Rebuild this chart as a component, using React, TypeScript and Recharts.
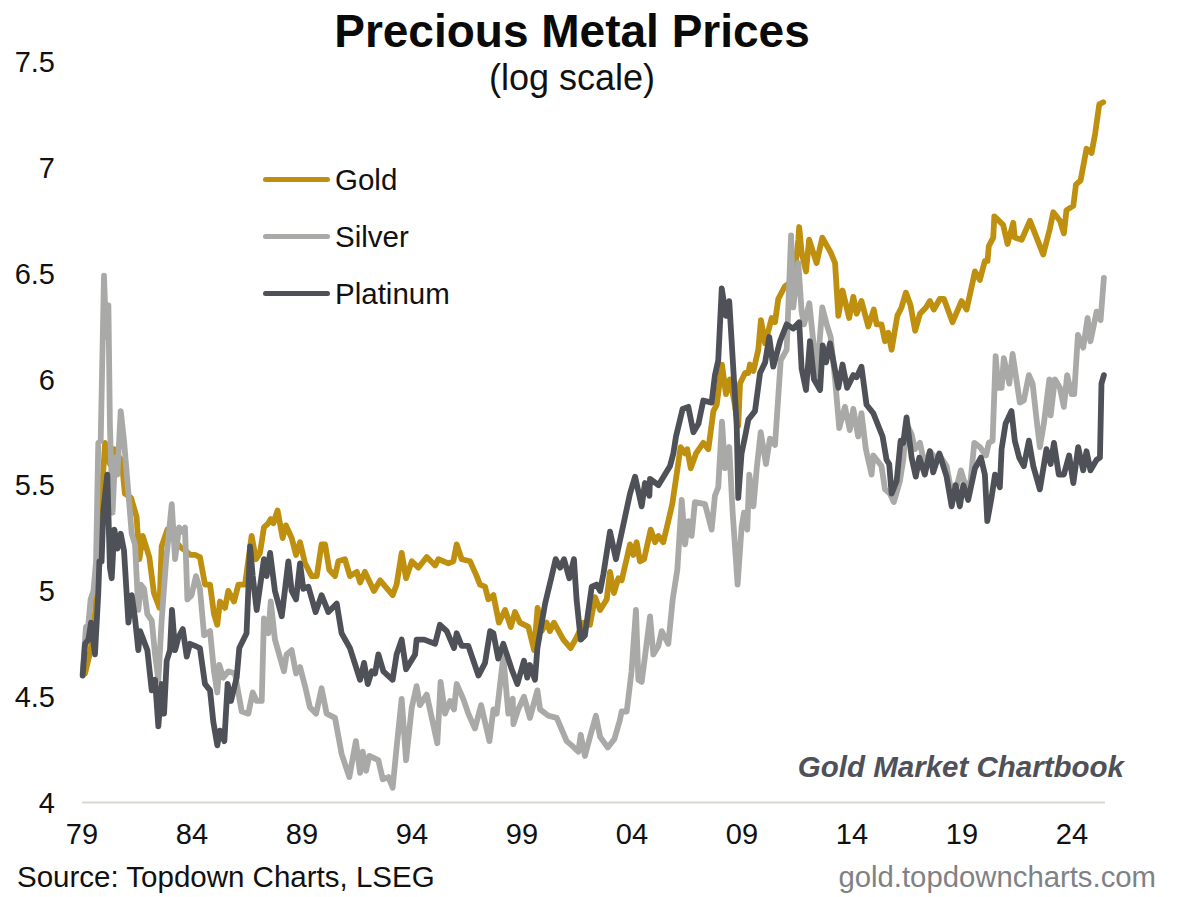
import React from "react";
import { LineChart, Line, XAxis, YAxis } from "recharts";

const FONT = "'Liberation Sans', Arial, sans-serif";

// Each point: [years since the start of 1979, log price]
const platinumPoints = [
[0.03,4.60],[0.14,4.75],[0.29,4.77],[0.41,4.85],[0.59,4.70],[0.74,4.99],[0.79,5.14],[0.89,5.14],[0.97,5.38],[1.15,5.55],[1.27,5.11],[1.35,5.06],[1.47,5.29],[1.61,5.20],[1.76,5.27],[1.91,5.19],[2.11,4.85],[2.26,4.98],[2.41,4.87],[2.56,4.72],[2.64,4.81],[2.79,4.77],[2.97,4.72],[3.17,4.53],[3.32,4.58],[3.47,4.36],[3.62,4.56],[3.73,4.42],[3.85,4.67],[4.0,4.72],[4.09,4.91],[4.23,4.72],[4.38,4.78],[4.58,4.82],[4.76,4.69],[4.91,4.75],[5.14,4.74],[5.36,4.73],[5.59,4.56],[5.82,4.53],[5.97,4.38],[6.15,4.27],[6.27,4.34],[6.47,4.29],[6.62,4.56],[6.77,4.48],[7.03,4.59],[7.15,4.73],[7.48,4.80],[7.64,5.21],[7.76,5.07],[7.94,4.91],[8.27,5.15],[8.39,5.07],[8.55,5.18],[8.77,5.00],[9.08,4.88],[9.38,5.14],[9.53,5.00],[9.73,4.96],[9.91,5.13],
[10.06,5.01],[10.29,5.02],[10.62,4.90],[10.89,4.98],[11.2,4.90],[11.58,4.94],[11.8,4.80],[12.18,4.73],[12.64,4.58],[12.82,4.66],[12.99,4.56],[13.17,4.62],[13.32,4.61],[13.47,4.70],[13.7,4.62],[14.12,4.58],[14.3,4.70],[14.53,4.77],[14.73,4.63],[15.14,4.70],[15.21,4.77],[15.55,4.77],[16.05,4.75],[16.27,4.84],[16.58,4.81],[16.91,4.73],[17.03,4.80],[17.26,4.74],[17.56,4.74],[18.02,4.60],[18.32,4.66],[18.55,4.81],[18.7,4.80],[18.92,4.68],[19.15,4.75],[19.53,4.63],[19.79,4.56],[20.09,4.67],[20.24,4.59],[20.36,4.65],[20.59,4.58],[20.7,4.73],[21.05,4.94],[21.35,5.07],[21.53,5.15],[21.73,5.11],[21.91,5.15],[22.15,5.06],[22.36,5.15],[22.48,4.96],[22.67,4.77],[22.86,4.79],[23.17,5.02],
[23.39,5.03],[23.55,5.00],[23.70,5.08],[24.0,5.28],[24.27,5.15],[24.6,5.31],[24.91,5.46],[25.14,5.54],[25.44,5.40],[25.59,5.51],[25.79,5.45],[25.82,5.53],[26.2,5.50],[26.73,5.59],[26.88,5.65],[27.0,5.73],[27.3,5.86],[27.56,5.87],[27.79,5.75],[28.02,5.79],[28.24,5.90],[28.62,5.89],[28.77,6.02],[28.92,6.09],[29.08,6.43],[29.27,6.30],[29.42,6.37],[29.61,6.04],[29.76,5.78],[29.83,5.44],[29.98,5.65],[30.14,5.73],[30.29,5.81],[30.59,5.85],[30.82,6.03],[31.05,6.08],[31.24,6.20],[31.42,6.06],[31.73,6.18],[32.03,6.26],[32.33,6.24],[32.6,6.27],[32.71,6.05],[32.91,5.95],[33.09,6.18],[33.27,6.0],[33.55,5.95],[33.67,6.16],[33.82,6.08],[34.0,6.17],[34.38,5.96],
[34.57,6.07],[34.78,5.96],[35.06,6.02],[35.21,6.01],[35.43,6.06],[35.66,5.88],[35.97,5.84],[36.39,5.73],[36.57,5.62],[36.69,5.60],[36.8,5.46],[37.03,5.52],[37.21,5.71],[37.33,5.70],[37.48,5.82],[37.71,5.63],[37.9,5.54],[38.06,5.63],[38.31,5.55],[38.54,5.66],[38.69,5.56],[38.97,5.65],[39.3,5.54],[39.53,5.40],[39.71,5.50],[39.9,5.40],[40.06,5.50],[40.28,5.43],[40.59,5.58],[40.86,5.63],[41.04,5.55],[41.15,5.33],[41.34,5.44],[41.5,5.55],[41.72,5.49],[41.8,5.67],[41.98,5.79],[42.25,5.85],[42.4,5.71],[42.6,5.63],[42.81,5.59],[43.04,5.71],[43.24,5.59],[43.54,5.48],[43.84,5.67],[44.03,5.60],[44.18,5.70],[44.4,5.55],[44.63,5.55],[44.87,5.64],[45.06,5.51],[45.28,5.68],[45.51,5.57],[45.66,5.66],[45.84,5.57],[46.12,5.62],[46.27,5.63],[46.34,5.98],[46.45,6.02],
];

const silverPoints = [
[0.03,4.61],[0.18,4.83],[0.29,4.84],[0.39,4.96],[0.52,5.0],[0.64,5.14],[0.74,5.70],[0.85,5.71],[1.0,6.49],[1.1,6.2],[1.2,6.35],[1.27,5.78],[1.39,5.37],[1.5,5.63],[1.61,5.55],[1.76,5.85],[1.91,5.71],[2.11,5.46],[2.26,5.27],[2.41,5.22],[2.56,4.91],[2.67,5.03],[2.82,5.01],[2.97,4.89],[3.17,4.86],[3.32,4.70],[3.47,4.58],[3.62,4.86],[3.82,5.14],[4.08,5.41],[4.23,5.15],[4.41,5.30],[4.53,5.28],[4.68,5.30],[4.79,4.96],[4.98,4.98],[5.18,5.07],[5.36,5.01],[5.55,4.79],[5.82,4.81],[6.0,4.62],[6.15,4.52],[6.24,4.65],[6.42,4.59],[6.65,4.62],[6.95,4.61],[7.26,4.43],[7.56,4.42],[7.76,4.52],[7.94,4.48],[8.17,4.48],[8.27,4.87],[8.47,4.80],[8.58,4.95],[8.77,4.77],[9.18,4.62],[9.3,4.70],[9.53,4.72],[9.73,4.61],
[9.91,4.64],[10.14,4.55],[10.36,4.45],[10.64,4.42],[10.89,4.54],[11.12,4.42],[11.5,4.40],[11.8,4.23],[12.15,4.12],[12.45,4.29],[12.64,4.14],[12.76,4.24],[12.91,4.15],[13.06,4.22],[13.47,4.20],[13.67,4.11],[13.93,4.12],[14.12,4.07],[14.3,4.26],[14.53,4.49],[14.73,4.20],[14.99,4.45],[15.21,4.55],[15.36,4.46],[15.67,4.51],[16.15,4.28],[16.3,4.57],[16.5,4.42],[16.73,4.48],[16.91,4.44],[17.03,4.56],[17.33,4.49],[17.56,4.42],[17.86,4.35],[18.14,4.46],[18.52,4.29],[18.7,4.44],[18.85,4.42],[19.15,4.69],[19.38,4.42],[19.58,4.49],[19.61,4.37],[19.83,4.44],[20.09,4.50],[20.36,4.40],[20.7,4.53],[20.82,4.44],[21.2,4.41],[21.58,4.40],[22.03,4.29],[22.26,4.27],[22.56,4.24],[22.67,4.32],[22.86,4.22],[23.09,4.31],[23.36,4.41],[23.55,4.31],
[23.9,4.26],[24.2,4.30],[24.45,4.39],[24.53,4.43],[24.76,4.43],[24.98,4.62],[25.18,4.91],[25.29,4.58],[25.44,4.57],[25.59,4.69],[25.82,4.88],[25.97,4.70],[26.2,4.74],[26.35,4.81],[26.65,4.75],[26.85,4.96],[27.06,5.10],[27.26,5.43],[27.41,5.22],[27.56,5.33],[27.71,5.26],[27.86,5.42],[28.32,5.41],[28.62,5.29],[28.77,5.45],[28.92,5.49],[29.09,5.80],[29.23,5.58],[29.42,5.68],[29.57,5.38],[29.8,5.03],[29.98,5.30],[30.09,5.37],[30.24,5.29],[30.33,5.55],[30.52,5.40],[30.67,5.58],[30.85,5.75],[31.09,5.60],[31.27,5.72],[31.5,5.69],[31.76,6.09],[32.03,6.14],[32.23,6.68],[32.33,6.34],[32.56,6.55],[32.71,6.32],[32.82,6.26],[33.06,6.36],[33.27,6.15],[33.39,6.0],[33.65,6.34],[33.85,6.26],[34.03,6.20],[34.23,6.0],[34.42,5.77],
[34.68,5.87],[34.9,5.76],[35.06,5.86],[35.28,5.73],[35.43,5.84],[35.63,5.67],[35.89,5.55],[35.97,5.64],[36.34,5.59],[36.5,5.48],[36.72,5.46],[36.9,5.42],[37.18,5.52],[37.33,5.62],[37.48,5.79],[37.71,5.74],[37.86,5.67],[38.09,5.70],[38.31,5.59],[38.54,5.66],[38.77,5.63],[38.99,5.64],[39.3,5.59],[39.53,5.46],[39.75,5.49],[39.95,5.57],[40.18,5.49],[40.39,5.52],[40.56,5.70],[40.81,5.68],[41.09,5.64],[41.22,5.70],[41.39,5.71],[41.53,6.11],[41.65,5.96],[41.8,5.96],[41.9,6.10],[42.15,5.98],[42.3,6.12],[42.63,5.89],[42.81,5.90],[43.04,6.02],[43.21,5.98],[43.39,5.81],[43.54,5.68],[43.72,5.79],[43.97,6.0],[44.03,5.83],[44.22,6.0],[44.45,5.96],[44.63,5.87],[44.78,6.02],[44.98,5.93],[45.1,5.93],[45.27,6.21],[45.51,6.15],[45.71,6.29],[45.84,6.18],[46.12,6.32],[46.3,6.28],[46.45,6.48],
];

const goldPoints = [
[0.14,4.61],[0.39,4.72],[0.59,4.89],[0.82,5.33],[1.05,5.70],[1.27,5.60],[1.47,5.67],[1.7,5.63],[1.8,5.62],[1.95,5.46],[2.23,5.44],[2.48,5.35],[2.61,5.15],[2.76,5.26],[3.06,5.16],[3.27,4.99],[3.52,4.92],[3.62,5.21],[3.88,5.29],[4.2,5.24],[4.45,5.21],[4.94,5.17],[5.14,5.17],[5.36,5.16],[5.59,5.03],[5.82,5.03],[6.0,4.89],[6.15,4.84],[6.27,4.95],[6.5,4.92],[6.65,5.0],[6.91,4.95],[7.11,5.03],[7.41,5.03],[7.71,5.26],[7.91,5.15],[8.09,5.18],[8.27,5.30],[8.47,5.32],[8.58,5.34],[8.7,5.32],[8.89,5.38],[9.12,5.25],[9.27,5.31],[9.53,5.25],[9.73,5.17],
[9.91,5.23],[10.14,5.13],[10.44,5.07],[10.67,5.07],[10.89,5.22],[11.05,5.22],[11.24,5.10],[11.5,5.07],[11.65,5.14],[11.95,5.15],[12.18,5.07],[12.49,5.09],[12.64,5.04],[12.86,5.09],[13.27,5.0],[13.55,5.05],[14.12,4.98],[14.3,5.03],[14.53,5.18],[14.73,5.06],[14.99,5.14],[15.29,5.11],[15.44,5.13],[15.67,5.16],[16.05,5.12],[16.2,5.15],[16.65,5.13],[16.88,5.14],[17.03,5.22],[17.26,5.15],[17.64,5.14],[17.94,5.07],[18.09,5.03],[18.32,5.02],[18.47,4.96],[18.7,4.98],[18.95,4.85],[19.23,4.91],[19.49,4.83],[19.68,4.90],[19.91,4.85],[20.29,4.83],[20.55,4.72],[20.71,4.92],[20.89,4.81],[21.12,4.85],[21.27,4.81],[21.45,4.85],[21.88,4.77],[22.21,4.73],[22.48,4.78],[22.79,4.85],[23.09,4.84],
[23.32,4.97],[23.55,4.91],[23.85,4.96],[24.0,5.09],[24.18,4.99],[24.38,5.06],[24.53,5.05],[24.91,5.22],[25.06,5.17],[25.21,5.23],[25.36,5.14],[25.55,5.15],[25.85,5.29],[26.05,5.23],[26.2,5.26],[26.42,5.23],[26.65,5.33],[26.83,5.41],[27.0,5.53],[27.21,5.68],[27.41,5.65],[27.51,5.67],[27.67,5.58],[27.91,5.65],[28.24,5.70],[28.47,5.67],[28.7,5.85],[28.85,5.88],[29.09,6.07],[29.27,5.93],[29.45,6.0],[29.64,5.90],[29.83,5.78],[29.91,5.98],[30.14,6.03],[30.29,6.03],[30.36,6.07],[30.52,6.04],[30.74,6.14],[30.86,6.28],[31.05,6.17],[31.35,6.29],[31.5,6.27],[31.65,6.38],[31.95,6.44],[32.36,6.47],[32.56,6.66],[32.6,6.72],[32.71,6.60],[32.91,6.51],[33.05,6.66],[33.39,6.55],[33.65,6.67],[34.03,6.60],[34.23,6.55],[34.38,6.30],
[34.57,6.42],[34.87,6.29],[35.06,6.39],[35.21,6.31],[35.43,6.37],[35.74,6.25],[35.99,6.33],[36.12,6.26],[36.34,6.26],[36.5,6.18],[36.65,6.22],[36.8,6.14],[37.06,6.30],[37.25,6.34],[37.45,6.41],[37.66,6.35],[37.87,6.23],[38.09,6.31],[38.36,6.34],[38.54,6.37],[38.72,6.33],[38.99,6.38],[39.18,6.38],[39.57,6.27],[39.98,6.37],[40.21,6.33],[40.59,6.51],[40.81,6.47],[41.04,6.56],[41.16,6.56],[41.22,6.63],[41.42,6.67],[41.47,6.77],[41.87,6.73],[42.07,6.64],[42.33,6.74],[42.4,6.67],[42.71,6.66],[43.09,6.75],[43.39,6.67],[43.69,6.59],[43.99,6.71],[44.15,6.79],[44.45,6.75],[44.63,6.69],[44.75,6.80],[45.06,6.82],[45.18,6.92],[45.39,6.94],[45.66,7.09],[45.89,7.07],[46.05,7.16],[46.24,7.30],[46.42,7.31],
];

const xTicks = [0, 5, 10, 15, 20, 25, 30, 35, 40, 45];
const xTickLabels = ["79", "84", "89", "94", "99", "04", "09", "14", "19", "24"];
const yTicks = [4, 4.5, 5, 5.5, 6, 6.5, 7, 7.5];

const GOLD = "#bf9010";
const SILVER = "#a9a9a7";
const PLATINUM = "#4e5157";
const seriesNames = ["Gold", "Silver", "Platinum"];
const seriesColors = [GOLD, SILVER, PLATINUM];

const toRows = (pts: number[][]) => pts.map(([t, v]) => ({ t, v }));

const LegendBox = () => (
  <div style={{ position: "absolute", left: 263, top: 151, fontFamily: FONT, fontSize: 29.5, color: "#111" }}>
    {seriesNames.map((name, i) => (
      <div key={name} style={{ display: "flex", alignItems: "center", height: 57 }}>
        <div style={{ width: 67, height: 5, borderRadius: 3, background: seriesColors[i], marginRight: 5 }} />
        <span>{name}</span>
      </div>
    ))}
  </div>
);

const abs = (o: React.CSSProperties): React.CSSProperties => ({ position: "absolute", whiteSpace: "nowrap", fontFamily: FONT, ...o });

export default function App() {
  return (
    <div style={{ position: "absolute", left: 0, top: 0, width: 1200, height: 897, background: "#fff", overflow: "hidden" }}>
      <LineChart width={1200} height={897} margin={{ top: 62, right: 95, bottom: 0, left: 0 }}>
        <XAxis
          dataKey="t"
          type="number"
          domain={[0, 46.5]}
          ticks={xTicks}
          interval={0}
          allowDuplicatedCategory={false}
          tickFormatter={(t: number) => xTickLabels[xTicks.indexOf(t)]}
          tick={{ fontFamily: FONT, fontSize: 29, fill: "#111" }}
          tickLine={false}
          tickSize={0}
          tickMargin={21}
          height={94.5}
          axisLine={{ stroke: "#d9d9d2", strokeWidth: 2 }}
        />
        <YAxis
          type="number"
          domain={[4, 7.5]}
          ticks={yTicks}
          interval={0}
          width={82}
          tick={{ fontFamily: FONT, fontSize: 29, fill: "#111" }}
          tickLine={false}
          tickSize={0}
          tickMargin={27}
          axisLine={false}
        />
        <Line data={toRows(goldPoints)} dataKey="v" name="Gold" stroke={GOLD} strokeWidth={5.8} dot={false} activeDot={false} type="linear" isAnimationActive={false} strokeLinejoin="round" strokeLinecap="round" />
        <Line data={toRows(silverPoints)} dataKey="v" name="Silver" stroke={SILVER} strokeWidth={5.8} dot={false} activeDot={false} type="linear" isAnimationActive={false} strokeLinejoin="round" strokeLinecap="round" />
        <Line data={toRows(platinumPoints)} dataKey="v" name="Platinum" stroke={PLATINUM} strokeWidth={5.8} dot={false} activeDot={false} type="linear" isAnimationActive={false} strokeLinejoin="round" strokeLinecap="round" />
      </LineChart>
      <LegendBox />
      <div style={abs({ left: 0, width: 1144, textAlign: "center", top: 4, fontSize: 46, fontWeight: 700, color: "#0a0a0a" })}>Precious Metal Prices</div>
      <div style={abs({ left: 0, width: 1144, textAlign: "center", top: 57, fontSize: 36, color: "#111" })}>(log scale)</div>
      <div style={abs({ right: 76, top: 750, fontSize: 29.5, fontWeight: 700, fontStyle: "italic", color: "#4e5157" })}>Gold Market Chartbook</div>
      <div style={abs({ left: 17, top: 860, fontSize: 29.5, color: "#111" })}>Source: Topdown Charts, LSEG</div>
      <div style={abs({ right: 44, top: 860, fontSize: 29.3, color: "#7f8285" })}>gold.topdowncharts.com</div>
    </div>
  );
}
